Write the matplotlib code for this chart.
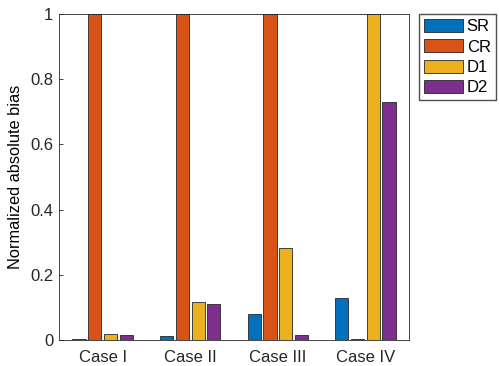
import matplotlib.pyplot as plt
import numpy as np

plt.rcParams['font.family'] = ['Liberation Sans', 'DejaVu Sans']

# Data
cases = ["Case I", "Case II", "Case III", "Case IV"]
series = ["SR", "CR", "D1", "D2"]
sr = [0.002, 0.013, 0.079, 0.130]
cr = [1.0, 1.0, 1.0, 0.002]
d1 = [0.018, 0.118, 0.282, 1.0]
d2 = [0.015, 0.109, 0.014, 0.731]
colors = ['#0072BD', '#D95319', '#EDB120', '#7E2F8E']

fig = plt.figure(figsize=(4.99, 3.66), dpi=100)
ax = fig.add_axes([0.118, 0.071, 0.702, 0.891])

x = np.arange(1, len(cases) + 1)
offsets = [-0.27, -0.09, 0.09, 0.27]
for vals, off, c, name in zip([sr, cr, d1, d2], offsets, colors, series):
    ax.bar(x + off, vals, width=0.15, color=c, edgecolor='#262626',
           linewidth=0.6, label=name)

ax.set_xlim(0.5, 4.5)
ax.set_ylim(0, 1)
ax.set_xticks(x)
ax.set_xticklabels(cases)
ax.set_yticks([0, 0.2, 0.4, 0.6, 0.8, 1])
ax.set_yticklabels(['0', '0.2', '0.4', '0.6', '0.8', '1'])
ax.set_ylabel("Normalized absolute bias", fontsize=11.8, labelpad=5)

for s in ax.spines.values():
    s.set_color('#262626')
    s.set_linewidth(0.6)
ax.tick_params(direction='in', length=3, width=0.6, labelsize=12,
               colors='#262626', top=False, right=False)
ax.tick_params(axis='y', pad=4)
ax.tick_params(axis='x', bottom=False, pad=7)

fig.legend(loc='upper left', bbox_to_anchor=(0.840, 0.962), fontsize=12,
           frameon=True, fancybox=False, edgecolor='#262626',
           handlelength=2.35, handleheight=0.84, handletextpad=0.2,
           labelspacing=0.3, borderpad=0.3, borderaxespad=0)

plt.savefig("out.png", dpi=100)
